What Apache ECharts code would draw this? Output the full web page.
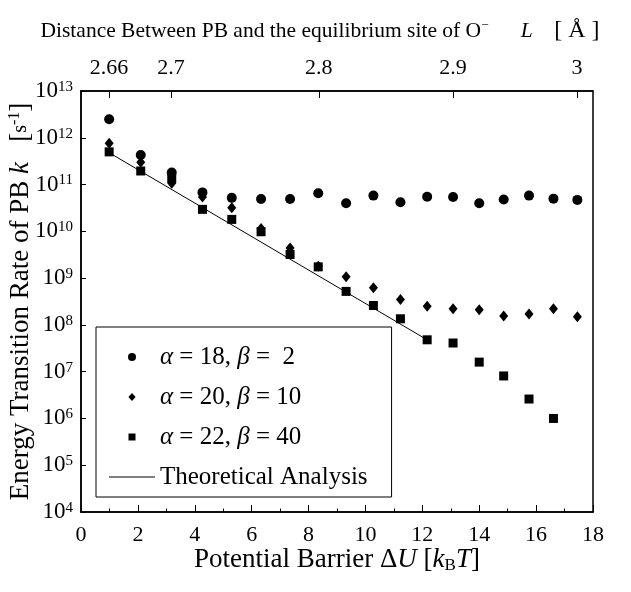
<!DOCTYPE html>
<html>
<head>
<meta charset="utf-8">
<script src="https://cdn.jsdelivr.net/npm/echarts@6/dist/echarts.min.js"></script>
<style>
html,body{margin:0;padding:0;background:#fff;}
#chart{width:631px;height:592px;}
</style>
</head>
<body>
<div id="chart"></div>
<script>
// ---- data ----
const barrierX = [0.99, 2.10, 3.19, 4.27, 5.30, 6.33, 7.35, 8.34, 9.32, 10.28, 11.23, 12.17, 13.08, 14.00, 14.86, 15.75, 16.61, 17.45];
const rateA18B2 = [2.5e12, 4.3e11, 1.8e11, 6.8e10, 5.2e10, 4.9e10, 4.9e10, 6.5e10, 4.0e10, 5.8e10, 4.2e10, 5.5e10, 5.4e10, 4.0e10, 4.8e10, 5.8e10, 5.0e10, 4.7e10];
const rateA20B10 = [7.6e11, 3.0e11, 1.07e11, 5.4e10, 3.2e10, 1.15e10, 4.4e9, 1.8e9, 1.07e9, 6.2e8, 3.5e8, 2.5e8, 2.2e8, 2.1e8, 1.55e8, 1.7e8, 2.2e8, 1.5e8];
const rateA22B40 = [5.0e11, 1.95e11, 1.35e11, 2.95e10, 1.8e10, 9.8e9, 3.2e9, 1.74e9, 5.2e8, 2.6e8, 1.35e8, 4.8e7, 4.1e7, 1.6e7, 8.1e6, 2.6e6, 1.0e6];
const theoryX = [0.99, 12.17];
const theoryY = [4.8e11, 4.8e7];
const topTickPos = [0.98, 3.16, 8.36, 13.08, 17.44];
const topTickLabels = ['2.66', '2.7', '2.8', '2.9', '3'];
const seriesNames = ['a18b2', 'a20b10', 'a22b40', 'Theoretical Analysis'];
const legendTexts = {
  'a18b2': '{i|α} = 18, {i|β} =  2',
  'a20b10': '{i|α} = 20, {i|β} = 10',
  'a22b40': '{i|α} = 22, {i|β} = 40',
  'Theoretical Analysis': 'Theoretical Analysis'
};

function pairs(xs, ys) { return ys.map((y, i) => [xs[i], y]); }

const serif = 'Liberation Serif';
function richFor(size) {
  return {
    i: { fontFamily: serif, fontStyle: 'italic', fontSize: size, color: '#000' },
    sup: { fontFamily: serif, fontSize: Math.round(size * 0.6), color: '#000', verticalAlign: 'top', lineHeight: Math.round(size * 0.6) },
    sub: { fontFamily: serif, fontSize: Math.round(size * 0.62), color: '#000', verticalAlign: 'bottom', lineHeight: Math.round(size * 0.62), padding: [7, 0, 0, 0] },
    sm: { fontFamily: serif, fontSize: Math.round(size * 0.75), color: '#000' },
    big: { fontFamily: serif, fontSize: Math.round(size * 1.12), color: '#000' }
  };
}

// legend icons: bounding box 46x8 (matches itemWidth x itemHeight)
const iconDiamond = 'path://M0,0M46,8M23,-0.5L27,4L23,8.5L19,4Z';
const iconRect = 'path://M0,0M46,8M19.5,0.5H26.5V7.5H19.5Z';
const iconLine = 'path://M0,0M46,8M0,3.4H46V4.6H0Z';

const chart = echarts.init(document.getElementById('chart'), null, { renderer: 'canvas' });
const option = {
  backgroundColor: '#fff',
  animation: false,
  textStyle: { fontFamily: serif, color: '#000' },
  grid: { left: 81, right: 38, top: 91, bottom: 80, containLabel: false, outerBoundsMode: 'none', show: true, borderColor: '#000', borderWidth: 1.5, backgroundColor: 'transparent' },
  xAxis: [
    {
      type: 'value', position: 'bottom', min: 0, max: 18, interval: 2,
      axisLine: { show: true, onZero: false, lineStyle: { color: '#000', width: 1.5 } },
      axisTick: { show: true, inside: true, length: 7, lineStyle: { color: '#000', width: 1 } },
      minorTick: { show: true, splitNumber: 2, length: 3.5, lineStyle: { color: '#000', width: 1 } },
      splitLine: { show: false },
      axisLabel: { fontFamily: serif, fontSize: 22, color: '#000', margin: 12 },
      name: 'Potential Barrier Δ{i|U} [{i|k}{sub|B}{i|T}]',
      nameLocation: 'middle', nameGap: 34, nameMoveOverlap: false,
      nameTextStyle: { fontFamily: serif, fontSize: 27, color: '#000', lineHeight: 28, rich: richFor(27) }
    },
    {
      type: 'value', position: 'top', min: 0, max: 18,
      axisLine: { show: true, onZero: false, lineStyle: { color: '#000', width: 1.5 } },
      axisTick: { show: true, inside: true, length: 7, customValues: topTickPos, lineStyle: { color: '#000', width: 1 } },
      splitLine: { show: false },
      axisLabel: {
        fontFamily: serif, fontSize: 22, color: '#000', margin: 12,
        customValues: topTickPos,
        formatter: function (v) {
          let best = 0;
          for (let k = 1; k < topTickPos.length; k++) if (Math.abs(topTickPos[k] - v) < Math.abs(topTickPos[best] - v)) best = k;
          return topTickLabels[best];
        }
      },
      name: 'Distance Between PB and the equilibrium site of O{sup|−}      {i|L}    {big|[ Å ]}',
      nameLocation: 'middle', nameGap: 48, nameMoveOverlap: false,
      nameTextStyle: { fontFamily: serif, fontSize: 21.5, color: '#000', lineHeight: 24, padding: [0, 34, 0, 0], rich: richFor(21.5) }
    }
  ],
  yAxis: {
    type: 'log', logBase: 10, min: 1e4, max: 1e13, interval: 1,
    axisLine: { show: true, onZero: false, lineStyle: { color: '#000', width: 1.5 } },
    axisTick: { show: true, inside: true, length: 5, lineStyle: { color: '#000', width: 1 } },
    minorTick: { show: false },
    splitLine: { show: false },
    axisLabel: {
      fontFamily: serif, fontSize: 23, color: '#000', margin: 8,
      formatter: function (v) { return '10{sup|' + Math.round(Math.log10(v)) + '}'; },
      rich: { sup: { fontFamily: serif, fontSize: 15, color: '#000', verticalAlign: 'top', lineHeight: 14 } }
    },
    name: 'Energy Transition Rate of PB {i|k}   [{sm|s}{sup|-1}]',
    nameLocation: 'middle', nameGap: 46, nameRotate: 90, nameMoveOverlap: false,
    nameTextStyle: { fontFamily: serif, fontSize: 27, color: '#000', lineHeight: 28, rich: richFor(27) }
  },
  legend: {
    orient: 'vertical', left: 96, top: 327,
    borderColor: '#000', borderWidth: 1, backgroundColor: '#fff',
    padding: [17, 24, 7, 13],
    itemWidth: 46, itemHeight: 8, itemGap: 14, itemTextGap: 17,
    symbolKeepAspect: true,
    data: [
      { name: seriesNames[0], icon: 'circle', itemStyle: { color: '#000', borderWidth: 0, opacity: 1 } },
      { name: seriesNames[1], icon: iconDiamond, itemStyle: { color: '#000', borderWidth: 0, opacity: 1 } },
      { name: seriesNames[2], icon: iconRect, itemStyle: { color: '#000', borderWidth: 0, opacity: 1 } },
      { name: seriesNames[3], icon: iconLine, itemStyle: { color: '#000', borderWidth: 0, opacity: 1 } }
    ],
    formatter: function (name) { return legendTexts[name]; },
    textStyle: { fontFamily: serif, fontSize: 25, color: '#000', lineHeight: 26, rich: richFor(25) }
  },
  series: [
    { name: seriesNames[0], type: 'scatter', xAxisIndex: 0, symbol: 'circle', symbolSize: 10, itemStyle: { color: '#000', opacity: 1 }, data: pairs(barrierX, rateA18B2), z: 3 },
    { name: seriesNames[1], type: 'scatter', xAxisIndex: 0, symbol: 'diamond', symbolSize: [9, 11], itemStyle: { color: '#000', opacity: 1 }, data: pairs(barrierX, rateA20B10), z: 3 },
    { name: seriesNames[2], type: 'scatter', xAxisIndex: 0, symbol: 'rect', symbolSize: 9, itemStyle: { color: '#000', opacity: 1 }, data: pairs(barrierX, rateA22B40), z: 4 },
    { name: seriesNames[3], type: 'line', xAxisIndex: 0, symbol: 'none', lineStyle: { color: '#000', width: 1 }, itemStyle: { color: '#000' }, data: pairs(theoryX, theoryY), z: 2 }
  ]
};
chart.setOption(option);
</script>
</body>
</html>
